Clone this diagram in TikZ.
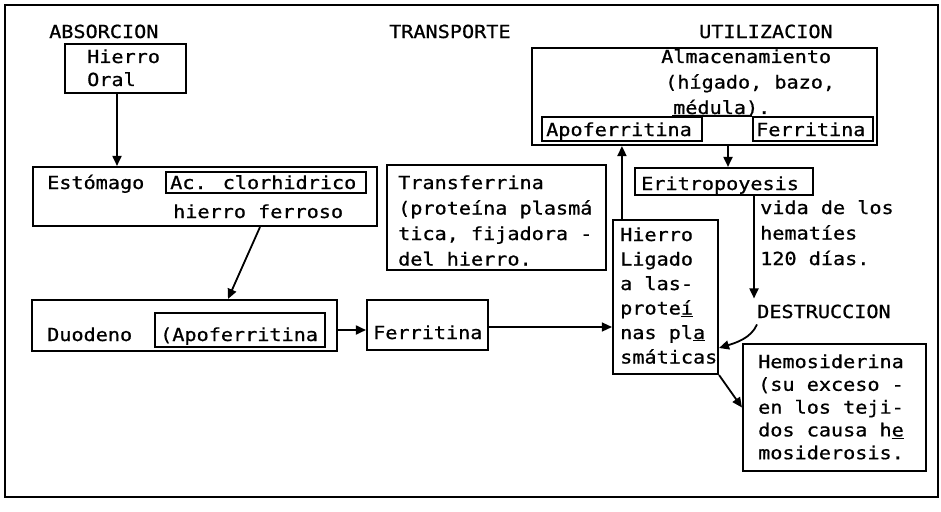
\documentclass[tikz,border=0pt]{standalone}
\usepackage{fontspec}
\newfontfamily\tw{DejaVu Sans Mono}[FakeStretch=1.12,FakeBold=0.8]
\usetikzlibrary{arrows.meta,calc,fit}
\newcommand\ml[2][25pt]{\vtop{\baselineskip=#1\lineskiplimit=-20pt\halign{##\hfil\cr#2\crcr}}}
\begin{document}
\begin{tikzpicture}[x=1pt,y=-1pt,
  box/.style={draw=black, line width=2.1pt, inner sep=0pt, rectangle},
  txt/.style={font=\tw\fontsize{18}{25}\selectfont, inner sep=0pt, anchor=base west},
  arr/.style={draw=black, line width=1.8pt, -{Triangle[length=10pt,width=9pt]}},
  plain/.style={draw=black, line width=2pt},
]
\useasboundingbox (0,0) rectangle (941,511);
\fill[white] (0,0) rectangle (941,511);
\node[box, line width=2.2pt, fit={(5,5) (938,497)}] (frame) {};

% headings
\node[txt] (habs) at (49,38) {ABSORCION};
\node[txt] (htra) at (389,38) {TRANSPORTE};
\node[txt] (huti) at (699,38) {UTILIZACION};

% boxes
\node[box, fit={(65,44) (186,93)}] (oral) {};
\node[box, fit={(33,167) (377,226)}] (estom) {};
\node[box, fit={(166,172) (366,193)}] (acbox) {};
\node[box, fit={(32,300) (337,351)}] (duod) {};
\node[box, fit={(155,313) (325,347)}] (apod) {};
\node[box, fit={(367,300) (488,350)}] (ferm) {};
\node[box, fit={(387,165) (606,270)}] (transf) {};
\node[box, fit={(532,48) (877,145)}] (almac) {};
\node[box, fit={(542,117) (702,141)}] (apot) {};
\node[box, fit={(753,117) (873,141)}] (ferrt) {};
\node[box, fit={(635,168) (813,195)}] (eritro) {};
\node[box, fit={(613,220) (718,374)}] (ligado) {};
\node[box, fit={(743,344) (926,471)}] (hemo) {};

% texts
\node[txt] (toral) at (87,63) {\ml[23pt]{Hierro\cr Oral}};
\node[txt] (testom) at (47,189) {Estómago};
\node[txt] (tac) at (170,189) {Ac. clorhidrico};
\node[txt] (tferroso) at (173,218) {hierro ferroso};
\node[txt] (tduod) at (47,341) {Duodeno};
\node[txt] (tapod) at (160,341) {(Apoferritina};
\node[txt] (tferm) at (373,339) {Ferritina};
\node[txt] (ttransf) at (398,189) {\ml[25.5pt]{Transferrina\cr (proteína plasmá\cr tica, fijadora -\cr del hierro.}};
\node[txt] (talmac) at (661,63) {\ml[25.5pt]{Almacenamiento\cr \kern4pt(hígado, bazo,\cr \kern12pt médula).}};
\node[txt] (tapot) at (546,136) {Apoferritina};
\node[txt] (tferrt) at (756,136) {Ferritina};
\node[txt] (teritro) at (641,190) {Eritropoyesis};
\node[txt] (tvida) at (760,214) {\ml[25.5pt]{vida de los\cr hematíes\cr 120 días.}};
\node[txt] (destr) at (757,318) {DESTRUCCION};
\node[txt] (tligado) at (620,241) {\ml[24.5pt]{Hierro\cr Ligado\cr a las-\cr prote\underline{í}\cr nas pl\underline{a}\cr smáticas}};
\node[txt] (themo) at (758,368) {\ml[22.8pt]{Hemosiderina\cr (su exceso -\cr en los teji-\cr dos causa h\underline{e}\cr mosiderosis.}};

% underline joining to Ferritina box
\coordinate (ml0) at (672,116);
\draw[plain] (ml0) -- (ferrt.north west);

% connectors
\coordinate (a1) at ([xshift=-8.5pt]oral.south);
\draw[arr] (a1) -- (a1 |- estom.north);

\coordinate (a2) at ([xshift=55pt]estom.south);
\draw[arr] (a2) -- ([xshift=43.5pt]duod.north);

\coordinate (a3) at ([yshift=-4.5pt]duod.east);
\draw[arr] (a3) -- (a3 -| ferm.west);

\coordinate (a4) at ([yshift=-2pt]ferm.east);
\draw[arr, line width=1.3pt] (a4) -- (a4 -| ligado.west);

\coordinate (a5) at ([xshift=10pt]ligado.north west);
\draw[arr] (a5) -- (a5 |- almac.south);

\coordinate (a6) at ([xshift=4pt]eritro.north);
\draw[arr] (a6 |- almac.south) -- (a6);

\coordinate (a7) at ([xshift=30pt]eritro.south);
\coordinate (d7) at ([yshift=6pt]destr.north);
\draw[arr] (a7) -- (a7 |- d7);

\coordinate (a8) at ([yshift=-6pt]destr.south west);
\coordinate (e8) at ([yshift=-51pt]ligado.east);
\draw[arr] (a8) .. controls +(-6,14) and +(16,-5) .. (e8);

\draw[arr] (ligado.south east) -- (hemo.west);
\end{tikzpicture}
\end{document}
